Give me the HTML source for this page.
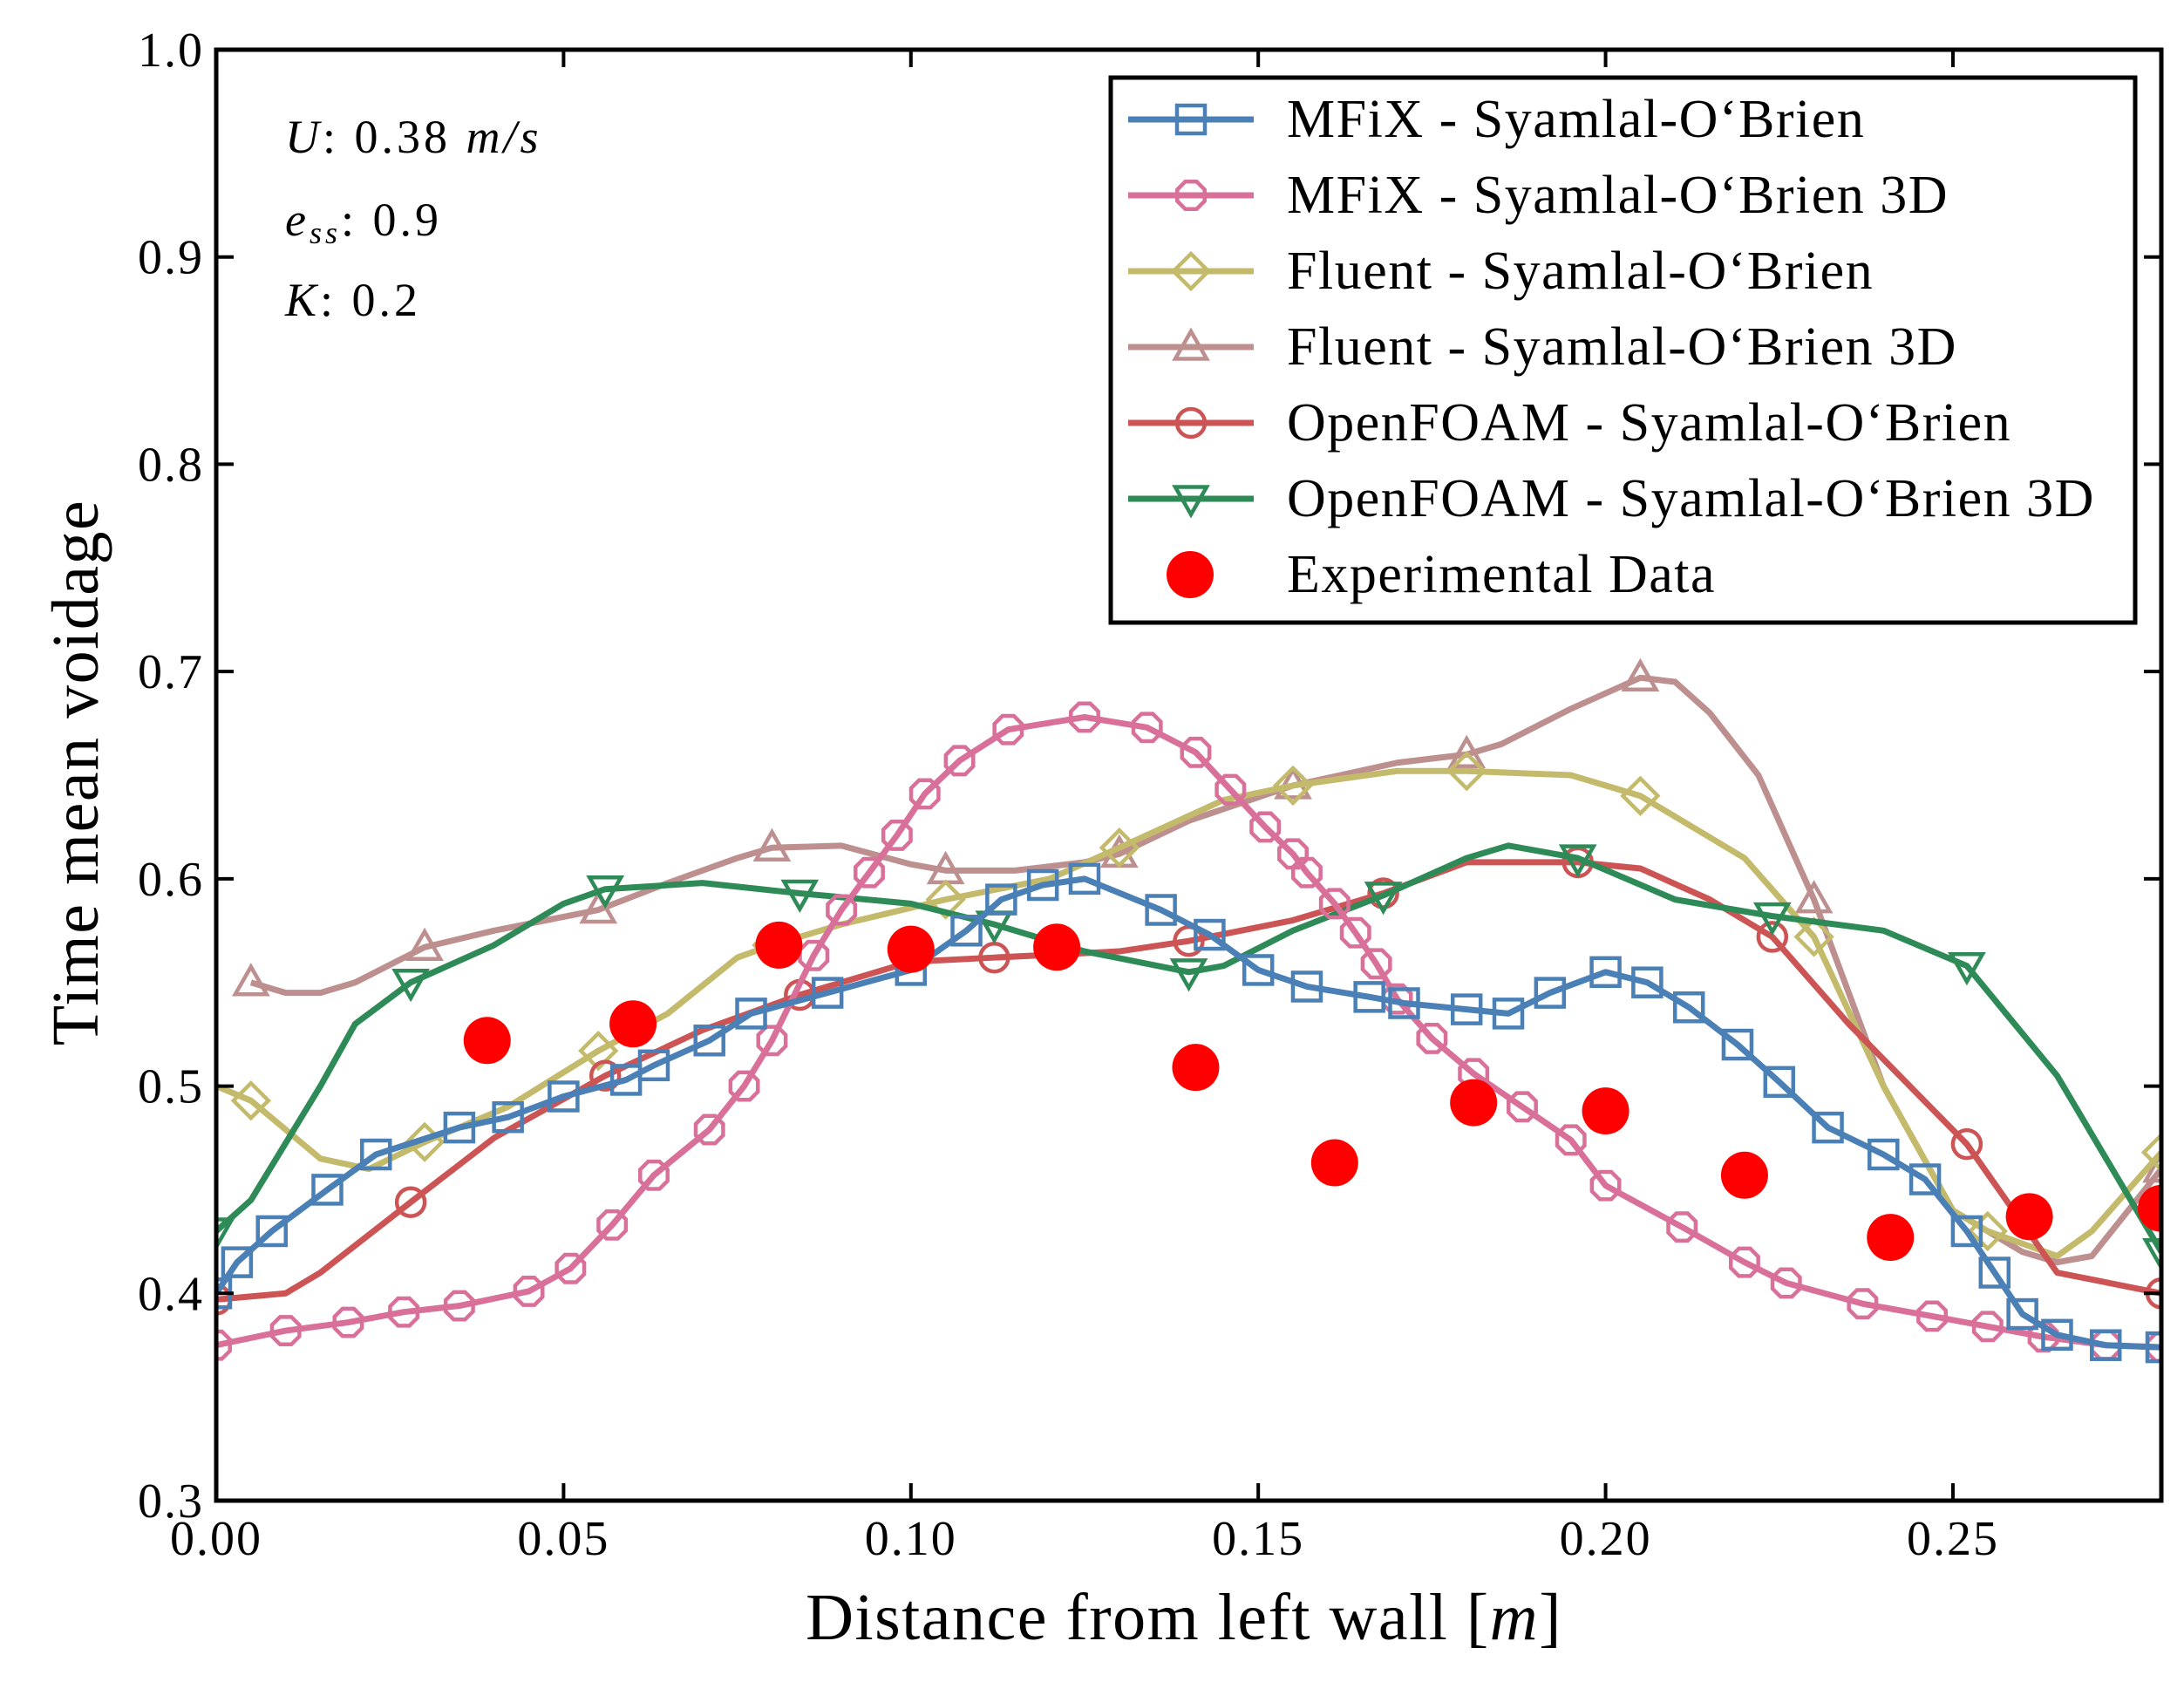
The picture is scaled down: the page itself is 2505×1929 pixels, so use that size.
<!DOCTYPE html>
<html><head><meta charset="utf-8"><style>
html,body{margin:0;padding:0;background:#fff}
svg{display:block;font-family:"Liberation Serif","DejaVu Serif",serif}
</style></head><body>
<svg id="chart" width="2505" height="1929" viewBox="0 0 2505 1929" xmlns="http://www.w3.org/2000/svg"></svg>
<script>
const xTicks=[0,0.05,0.10,0.15,0.20,0.25];
const xTickLabels=["0.00","0.05","0.10","0.15","0.20","0.25"];
const yTicks=[0.3,0.4,0.5,0.6,0.7,0.8,0.9,1.0];
const yTickLabels=["0.3","0.4","0.5","0.6","0.7","0.8","0.9","1.0"];
const mfixX=[0,0.003,0.008,0.016,0.023,0.035,0.042,0.05,0.059,0.063,0.071,0.077,0.088,0.1,0.108,0.113,0.119,0.125,0.136,0.143,0.15,0.157,0.166,0.171,0.18,0.186,0.192,0.2,0.206,0.212,0.219,0.225,0.232,0.24,0.246,0.252,0.256,0.26,0.265,0.272,0.28];
const mfixY=[0.40,0.415,0.43,0.45,0.467,0.48,0.485,0.495,0.503,0.51,0.522,0.535,0.545,0.556,0.575,0.59,0.597,0.6,0.585,0.573,0.556,0.548,0.543,0.54,0.537,0.535,0.545,0.555,0.55,0.538,0.52,0.502,0.48,0.467,0.455,0.43,0.41,0.39,0.38,0.375,0.374];
const mfix3dX=[0,0.01,0.019,0.027,0.035,0.045,0.051,0.057,0.063,0.071,0.076,0.08,0.086,0.09,0.094,0.098,0.102,0.107,0.114,0.125,0.134,0.141,0.146,0.151,0.155,0.157,0.161,0.164,0.167,0.17,0.175,0.181,0.188,0.195,0.2,0.211,0.22,0.226,0.237,0.247,0.255,0.263,0.272,0.28];
const mfix3dY=[0.375,0.382,0.386,0.391,0.394,0.401,0.412,0.433,0.457,0.479,0.5,0.522,0.563,0.585,0.603,0.621,0.641,0.657,0.672,0.678,0.673,0.661,0.643,0.625,0.612,0.603,0.588,0.574,0.559,0.542,0.523,0.506,0.49,0.474,0.452,0.432,0.415,0.405,0.395,0.389,0.384,0.379,0.375,0.374];
const fluentX=[0,0.005,0.015,0.022,0.03,0.042,0.055,0.065,0.075,0.08,0.09,0.105,0.12,0.13,0.145,0.155,0.17,0.18,0.195,0.205,0.22,0.23,0.24,0.25,0.255,0.265,0.27,0.28];
const fluentY=[0.5,0.493,0.465,0.46,0.473,0.49,0.517,0.535,0.562,0.568,0.578,0.59,0.6,0.615,0.638,0.645,0.652,0.652,0.65,0.64,0.61,0.572,0.5,0.44,0.43,0.418,0.43,0.468];
const fluentMarks=[1,4,6,9,11,13,15,17,19,21,24,27];
const fluent3dX=[0.005,0.01,0.015,0.02,0.03,0.04,0.055,0.065,0.075,0.08,0.09,0.1,0.105,0.115,0.125,0.13,0.14,0.155,0.17,0.18,0.185,0.195,0.205,0.21,0.215,0.222,0.23,0.24,0.25,0.26,0.265,0.27,0.28];
const fluent3dY=[0.55,0.545,0.545,0.55,0.567,0.575,0.585,0.598,0.61,0.615,0.616,0.607,0.604,0.604,0.608,0.612,0.628,0.645,0.656,0.66,0.665,0.682,0.697,0.695,0.68,0.65,0.59,0.5,0.44,0.42,0.415,0.418,0.46];
const fluent3dMarks=[0,4,6,9,12,15,17,19,22,26,32];
const foamX=[0,0.01,0.015,0.028,0.04,0.056,0.07,0.084,0.1,0.112,0.13,0.14,0.155,0.168,0.18,0.196,0.205,0.215,0.224,0.235,0.252,0.265,0.28];
const foamY=[0.397,0.4,0.41,0.444,0.475,0.505,0.527,0.544,0.56,0.562,0.565,0.57,0.58,0.593,0.608,0.608,0.605,0.59,0.572,0.53,0.472,0.41,0.4];
const foamMarks=[0,3,5,7,9,11,13,15,18,20,22];
const foam3dX=[0,0.005,0.015,0.02,0.028,0.04,0.05,0.056,0.07,0.084,0.1,0.112,0.125,0.14,0.145,0.155,0.168,0.18,0.186,0.196,0.21,0.224,0.24,0.252,0.265,0.28];
const foam3dY=[0.43,0.445,0.5,0.53,0.55,0.568,0.588,0.595,0.598,0.593,0.588,0.578,0.565,0.555,0.558,0.575,0.592,0.61,0.616,0.61,0.59,0.582,0.575,0.558,0.505,0.42];
const foam3dMarks=[0,4,7,9,11,13,16,19,21,23,25];
const expX=[0.039,0.06,0.081,0.1,0.121,0.141,0.161,0.181,0.2,0.22,0.241,0.261,0.28];
const expY=[0.522,0.530,0.568,0.566,0.567,0.509,0.463,0.492,0.488,0.457,0.427,0.437,0.441];

const NS="http://www.w3.org/2000/svg";
const svg=document.getElementById('chart');
const X0=248,X1=2479,Y0=1721,Y1=57;
const sx=v=>X0+(v-0)/(0.28-0)*(X1-X0);
const sy=v=>Y0-(v-0.3)/(1.0-0.3)*(Y0-Y1);
function mk(tag,attrs,parent){const e=document.createElementNS(NS,tag);for(const k in attrs)e.setAttribute(k,attrs[k]);(parent||svg).appendChild(e);return e;}

const clip=mk('clipPath',{id:'pc'});mk('rect',{x:X0,y:Y1,width:X1-X0,height:Y0-Y1},clip);
const plot=mk('g',{'clip-path':'url(#pc)'});



function marker(type,cx,cy,color,g){
  const r=18;let e;
  if(type==='square') e=mk('rect',{x:cx-r+2,y:cy-r+2,width:2*r-4,height:2*r-4},g);
  else if(type==='circle') e=mk('circle',{cx:cx,cy:cy,r:r-2},g);
  else if(type==='octagon'){let p=[];for(let i=0;i<8;i++){const a=Math.PI/8+i*Math.PI/4;p.push((cx+(r-1)*Math.cos(a))+','+(cy+(r-1)*Math.sin(a)));}e=mk('polygon',{points:p.join(' ')},g);}
  else if(type==='diamond') e=mk('polygon',{points:`${cx},${cy-r-2} ${cx+r+2},${cy} ${cx},${cy+r+2} ${cx-r-2},${cy}`},g);
  else if(type==='up') e=mk('polygon',{points:`${cx},${cy-r} ${cx+r},${cy+r*0.75} ${cx-r},${cy+r*0.75}`},g);
  else if(type==='down') e=mk('polygon',{points:`${cx},${cy+r} ${cx+r},${cy-r*0.75} ${cx-r},${cy-r*0.75}`},g);
  e.setAttribute('fill','none');e.setAttribute('stroke',color);e.setAttribute('stroke-width',4.5);
  
  
  return e;
}
function series(name,xs,ys,color,type,marks){
  const g=mk('g',{},plot);
  
  
  const pts=xs.map((x,i)=>sx(x)+','+sy(ys[i])).join(' ');
  const l=mk('polyline',{points:pts,fill:'none',stroke:color,'stroke-width':7,'stroke-linejoin':'round'},g);
  
  
  const idx=marks||xs.map((_,i)=>i);
  idx.forEach(i=>marker(type,sx(xs[i]),sy(ys[i]),color,g));
}
const C={blue:'#4a80b5',pink:'#d9709a',olive:'#c3bb6b',rosy:'#bd8f8f',red:'#cc5454',green:'#2e8b57'};
series('fluent-3d-series',fluent3dX,fluent3dY,C.rosy,'up',fluent3dMarks);
series('fluent-series',fluentX,fluentY,C.olive,'diamond',fluentMarks);
series('openfoam-series',foamX,foamY,C.red,'circle',foamMarks);
series('openfoam-3d-series',foam3dX,foam3dY,C.green,'down',foam3dMarks);
series('mfix-3d-series',mfix3dX,mfix3dY,C.pink,'octagon');
series('mfix-series',mfixX,mfixY,C.blue,'square');
const eg=mk('g',{},plot);


expX.forEach((x,i)=>{const c=mk('circle',{cx:sx(x),cy:sy(expY[i]),r:27,fill:'#ff0000'},eg);

});

const fr=mk('rect',{x:X0,y:Y1,width:X1-X0,height:Y0-Y1,fill:'none',stroke:'#000','stroke-width':5});


xTicks.forEach((v,i)=>{const x=sx(v);
 mk('line',{x1:x,y1:Y0,x2:x,y2:Y0-20,stroke:'#000','stroke-width':4});
 mk('line',{x1:x,y1:Y1,x2:x,y2:Y1+20,stroke:'#000','stroke-width':4});
 const t=mk('text',{x:x,y:Y0+62,'text-anchor':'middle','font-size':56,'letter-spacing':2});t.textContent=xTickLabels[i];
 
 });
yTicks.forEach((v,i)=>{const y=sy(v);
 mk('line',{x1:X0,y1:y,x2:X0+20,y2:y,stroke:'#000','stroke-width':4});
 mk('line',{x1:X1,y1:y,x2:X1-20,y2:y,stroke:'#000','stroke-width':4});
 const t=mk('text',{x:X0-14,y:y+19,'text-anchor':'end','font-size':56,'letter-spacing':2});t.textContent=yTickLabels[i];
 
 });
let t=mk('text',{x:1358,y:1880,'text-anchor':'middle','font-size':76,'letter-spacing':1.5});
t.innerHTML='Distance from left wall [<tspan font-style="italic">m</tspan>]';


t=mk('text',{x:0,y:0,'text-anchor':'middle','font-size':76,'letter-spacing':1.5,transform:'translate(112,886) rotate(-90)'});
t.textContent='Time mean voidage';


const ann=[['<tspan font-style="italic">U</tspan>: 0.38 <tspan font-style="italic">m/s</tspan>',175],['<tspan font-style="italic">e</tspan><tspan font-style="italic" font-size="36" dy="9">ss</tspan><tspan dy="-9">: 0.9</tspan>',270],['<tspan font-style="italic">K</tspan>: 0.2',362]];
ann.forEach(a=>{const e=mk('text',{x:327,y:a[1],'font-size':54,'letter-spacing':4});e.innerHTML=a[0];

});

const lg=mk('g',{});


mk('rect',{x:1274,y:89,width:1175,height:625,fill:'#fff',stroke:'#000','stroke-width':5},lg);
const legItems=[['MFiX - Syamlal-O‘Brien',C.blue,'square'],['MFiX - Syamlal-O‘Brien 3D',C.pink,'octagon'],['Fluent - Syamlal-O‘Brien',C.olive,'diamond'],['Fluent - Syamlal-O‘Brien 3D',C.rosy,'up'],['OpenFOAM - Syamlal-O‘Brien',C.red,'circle'],['OpenFOAM - Syamlal-O‘Brien 3D',C.green,'down'],['Experimental Data','#ff0000','dot']];
legItems.forEach((it,i)=>{const y=137+i*87;const g=mk('g',{},lg);
 
 
 if(it[2]==='dot'){mk('circle',{cx:1365,cy:y,r:27,fill:'#ff0000'},g);}
 else{mk('line',{x1:1294,y1:y,x2:1438,y2:y,stroke:it[1],'stroke-width':7},g);marker(it[2],1366,y,it[1],g);}
 const tx=mk('text',{x:1476,y:y+20,'font-size':62,'letter-spacing':1.5},g);tx.textContent=it[0];});
</script>
</body></html>
